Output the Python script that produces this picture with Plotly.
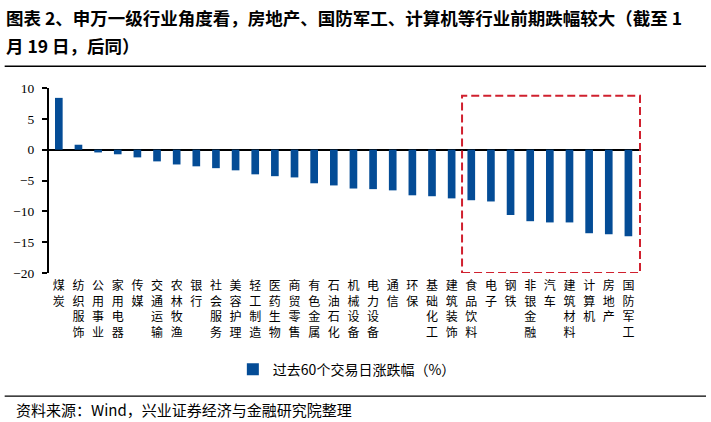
import plotly.graph_objects as go

categories = ["煤炭", "纺织服饰", "公用事业", "家用电器", "传媒", "交通运输", "农林牧渔", "银行",
              "社会服务", "美容护理", "轻工制造", "医药生物", "商贸零售", "有色金属", "石油石化",
              "机械设备", "电力设备", "通信", "环保", "基础化工", "建筑装饰", "食品饮料", "电子",
              "钢铁", "非银金融", "汽车", "建筑材料", "计算机", "房地产", "国防军工"]
values = [8.4, 0.8, -0.45, -0.75, -1.25, -1.9, -2.4, -2.7,
          -3.0, -3.35, -4.0, -4.3, -4.5, -5.45, -5.8,
          -6.3, -6.4, -6.6, -7.4, -7.55, -7.9, -8.2, -8.4,
          -10.6, -11.6, -11.8, -11.8, -13.55, -13.7, -14.05]
series_name = "过去60个交易日涨跌幅（%）"
title_line1 = "图表 2、申万一级行业角度看，房地产、国防军工、计算机等行业前期跌幅较大（截至 1"
title_line2 = "月 19 日，后同）"
source_text = "资料来源：Wind，兴业证券经济与金融研究院整理"
y_ticks = [10, 5, 0, -5, -10, -15, -20]

CJK = "Noto Sans CJK SC"
SERIF = "Liberation Serif"
BAR_COLOR = "#044C96"

fig = go.Figure()
fig.add_trace(go.Bar(
    x=categories, y=values, name=series_name,
    marker=dict(color=BAR_COLOR, line=dict(width=0)),
    showlegend=True,
))

W, H = 711, 422
L, R, T, B = 49.3, 70, 88.3, 148.7
pw = W - L - R
ph = H - T - B


def px_x(px):
    return (px - L) / pw


def px_y(py):
    return (H - B - py) / ph


fig.update_layout(
    width=W, height=H,
    margin=dict(l=L, r=R, t=T, b=B, pad=0),
    paper_bgcolor="white", plot_bgcolor="white",
    bargap=0.61,
    font=dict(family=CJK, color="black"),
    xaxis=dict(
        tickmode="array", tickvals=categories,
        ticktext=["<br>".join(c) for c in categories],
        tickangle=0, showgrid=False, showline=False, zeroline=False,
        ticks="", ticklabelstandoff=4,
        tickfont=dict(family=CJK, size=12, color="black"),
    ),
    yaxis=dict(
        range=[-20, 10], tickmode="array", tickvals=y_ticks,
        showgrid=False, showline=True, linecolor="black", linewidth=2,
        ticks="outside", ticklen=5, tickwidth=1.5, tickcolor="black",
        ticklabelstandoff=5,
        zeroline=True, zerolinecolor="black", zerolinewidth=2,
        tickfont=dict(family=SERIF, size=13.5, color="black"),
    ),
    legend=dict(
        orientation="h", x=px_x(347), xanchor="center", y=px_y(370), yanchor="middle",
        font=dict(family=CJK, size=14, color="black"), bgcolor="rgba(0,0,0,0)",
    ),
)

# highlight box around the largest decliners
fig.add_shape(type="rect", xref="x", yref="y",
              x0=20.53, x1=29.59, y0=-20, y1=8.75,
              line=dict(color="#D0202E", width=2, dash="8px,4px"), fillcolor="rgba(0,0,0,0)")

# title lines and rules
fig.add_annotation(xref="paper", yref="paper", x=px_x(4), y=px_y(18), xanchor="left", yanchor="middle",
                   text="<b>" + title_line1 + "</b>", showarrow=False,
                   font=dict(family=CJK, size=17.5, color="black"))
fig.add_annotation(xref="paper", yref="paper", x=px_x(4), y=px_y(46), xanchor="left", yanchor="middle",
                   text="<b>" + title_line2 + "</b>", showarrow=False,
                   font=dict(family=CJK, size=17.5, color="black"))
fig.add_shape(type="line", xref="paper", yref="paper", x0=px_x(5), x1=px_x(706),
              y0=px_y(66.5), y1=px_y(66.5), line=dict(color="black", width=1.5))
fig.add_shape(type="line", xref="paper", yref="paper", x0=px_x(5), x1=px_x(706),
              y0=px_y(396.5), y1=px_y(396.5), line=dict(color="black", width=1.2))
fig.add_annotation(xref="paper", yref="paper", x=px_x(14), y=px_y(410), xanchor="left", yanchor="middle",
                   text=source_text, showarrow=False,
                   font=dict(family=CJK, size=15, color="black"))

fig.write_html("out.html", config={"displayModeBar": False},
               post_script="document.body.style.margin='0';document.body.style.padding='0';")
